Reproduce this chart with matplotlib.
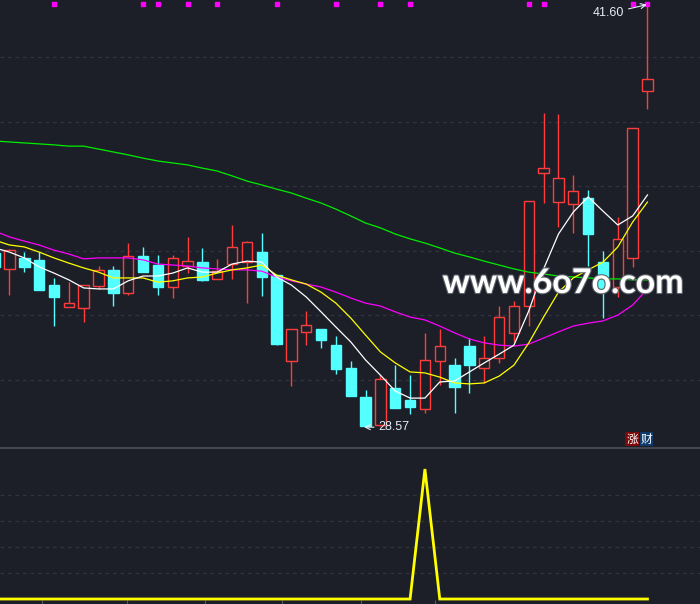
import numpy as np
import matplotlib
matplotlib.use("Agg")
import matplotlib.pyplot as plt
import matplotlib.patheffects as pe
from matplotlib.lines import Line2D

# --------------------------------------------------------------------------- #
# Data
# --------------------------------------------------------------------------- #
days = list(range(-1, 44))

opens = [33.93, 33.44, 33.78, 33.72, 32.94, 32.26, 32.23, 32.91, 33.41, 32.69,
         33.84, 33.56, 32.88, 33.53, 33.65, 33.13, 33.59, 33.65, 33.96, 33.25,
         30.59, 31.49, 31.58, 31.08, 30.37, 29.47, 28.60, 29.75, 29.38, 29.10,
         30.59, 30.46, 31.05, 30.37, 30.68, 31.46, 32.29, 36.41, 35.51, 35.45,
         35.63, 33.65, 32.88, 33.78, 38.95]
highs = [34.02, 34.06, 33.96, 33.96, 33.16, 33.03, 32.94, 33.53, 33.53, 34.24,
         34.12, 33.87, 33.87, 34.43, 34.09, 33.75, 34.80, 34.30, 34.55, 33.25,
         31.58, 32.14, 31.58, 31.36, 30.59, 29.69, 30.15, 30.46, 30.15, 31.46,
         31.58, 30.68, 31.30, 31.36, 32.29, 32.45, 35.54, 38.27, 38.24, 36.35,
         35.88, 33.99, 35.05, 37.80, 41.60]
lows = [33.34, 32.63, 33.34, 32.79, 31.67, 32.26, 31.80, 32.82, 32.29, 32.63,
        33.34, 32.63, 32.54, 33.31, 33.07, 33.13, 33.13, 32.38, 32.60, 31.08,
        29.81, 31.08, 30.99, 30.19, 29.50, 28.57, 28.58, 29.13, 28.95, 28.98,
        29.85, 28.98, 29.60, 29.91, 30.53, 31.18, 31.67, 35.48, 34.74, 34.55,
        33.53, 31.92, 32.57, 33.50, 38.39]
closes = [33.50, 34.02, 33.50, 32.79, 32.57, 32.38, 32.94, 33.41, 32.69, 33.84,
          33.34, 32.88, 33.78, 33.68, 33.10, 33.37, 34.12, 34.27, 33.19, 31.11,
          31.58, 31.70, 31.24, 30.34, 29.50, 28.57, 30.03, 29.13, 29.16, 30.62,
          31.05, 29.78, 30.46, 30.68, 31.95, 32.29, 35.54, 36.56, 36.25, 35.85,
          34.52, 32.79, 34.37, 37.80, 39.32]

ma5 = [34.09, 33.96, 33.78, 33.50, 33.31, 33.10, 32.85, 32.82, 32.82, 33.07,
       33.22, 33.22, 33.31, 33.47, 33.34, 33.34, 33.59, 33.68, 33.65, 33.19,
       32.94, 32.57, 32.11, 31.64, 31.18, 30.62, 30.15, 29.66, 29.44, 29.44,
       29.94, 29.97, 30.25, 30.53, 30.80, 31.08, 32.14, 33.44, 34.52, 35.20,
       35.67, 35.23, 34.80, 35.08, 35.73]
ma10 = [34.33, 34.18, 34.12, 33.96, 33.78, 33.62, 33.47, 33.34, 33.16, 33.16,
        33.16, 33.03, 33.07, 33.16, 33.19, 33.31, 33.41, 33.47, 33.56, 33.25,
        33.10, 32.97, 32.72, 32.38, 31.92, 31.39, 30.87, 30.53, 30.25, 30.22,
        30.09, 29.91, 29.88, 29.91, 30.12, 30.46, 31.15, 31.95, 32.72, 33.16,
        33.41, 33.65, 34.12, 34.89, 35.51]
ma20 = [34.61, 34.43, 34.30, 34.18, 34.02, 33.90, 33.75, 33.78, 33.78, 33.78,
        33.72, 33.59, 33.56, 33.53, 33.47, 33.44, 33.41, 33.41, 33.37, 33.19,
        33.07, 32.97, 32.88, 32.72, 32.54, 32.38, 32.29, 32.11, 31.95, 31.86,
        31.67, 31.46, 31.27, 31.15, 31.08, 31.05, 31.11, 31.30, 31.49, 31.67,
        31.76, 31.83, 32.01, 32.32, 32.82]
ma60 = [37.40, 37.37, 37.34, 37.31, 37.28, 37.24, 37.24, 37.15, 37.06, 36.97,
        36.87, 36.78, 36.72, 36.66, 36.56, 36.47, 36.32, 36.16, 36.04, 35.91,
        35.79, 35.63, 35.48, 35.29, 35.08, 34.86, 34.71, 34.52, 34.37, 34.24,
        34.09, 33.93, 33.81, 33.68, 33.56, 33.44, 33.34, 33.28, 33.22, 33.19,
        33.16, 33.13, 33.13, 33.10, 33.10]

# lower panel signal
signal = [0] * 29 + [5] + [0] * 15

# magenta flags along the top edge
flag_days = [3, 9, 10, 12, 14, 18, 22, 25, 27, 35, 36, 42, 43]

# date ticks on the bottom edge
date_ticks = [2.2, 7.9, 13.2, 18.4, 23.7, 28.7]

price_grid = [30, 32, 34, 36, 38, 40]
signal_grid = [1, 2, 3, 4]

BG = "#1c1f28"
UP = "#ff3c3c"
DOWN = "#54ffff"
GRID = "#30343e"

plt.rcParams["font.family"] = ["Liberation Sans", "Noto Sans CJK SC", "DejaVu Sans"]

fig = plt.figure(figsize=(7.0, 6.04), dpi=100, facecolor=BG)
ax = fig.add_axes([0, 157 / 604, 1, 447 / 604])
axs = fig.add_axes([0, 0, 1, 156 / 604])

for a in (ax, axs):
    a.set_facecolor(BG)
    for s in a.spines.values():
        s.set_visible(False)
    a.set_xlim(-0.64, 46.54)

# --------------------------------------------------------------------------- #
# Candles
# --------------------------------------------------------------------------- #
for d, o, h, l, c in zip(days, opens, highs, lows, closes):
    up = c >= o
    col = UP if up else DOWN
    lo_b, hi_b = min(o, c), max(o, c)
    if h > hi_b:
        ax.vlines(d, hi_b, h, color=col, lw=1.0, zorder=2)
    if l < lo_b:
        ax.vlines(d, l, lo_b, color=col, lw=1.0, zorder=2)
    ax.bar(d, max(hi_b - lo_b, 0.02), bottom=lo_b, width=0.7,
           facecolor=BG if up else DOWN, edgecolor=col, linewidth=1.0, zorder=3)

# moving averages
ax.plot(days, ma60, color="#00ee00", lw=0.9, zorder=4)
ax.plot(days, ma20, color="#ff00ff", lw=0.9, zorder=4)
ax.plot(days, ma10, color="#ffff00", lw=0.9, zorder=4)
ax.plot(days, ma5, color="#ffffff", lw=0.9, zorder=4)

ax.set_ylim(27.926, 41.765)
ax.set_yticks(price_grid)
ax.set_xticks([])
ax.tick_params(length=0, labelleft=False)
ax.grid(axis="y", color=GRID, linestyle=(0, (3, 3)), lw=0.9)

ax.plot(flag_days, [0.991] * len(flag_days), "s", color="#ff00ff", ms=3,
        transform=ax.get_xaxis_transform(), zorder=5, clip_on=False)

# high / low labels
label_col = "#e4ecf5"
hi_i = highs.index(max(highs))
lo_i = lows.index(min(lows))
ax.annotate(f"{max(highs):.2f}", xy=(days[hi_i] - 0.05, max(highs) + 0.02),
            xytext=(days[hi_i] - 1.55, max(highs) - 0.25),
            ha="right", va="center", fontsize=9, color=label_col,
            arrowprops=dict(arrowstyle="->", color=label_col, lw=0.8,
                            shrinkA=1, shrinkB=0), zorder=6)
ax.annotate(f"{min(lows):.2f}", xy=(days[lo_i] - 0.1, min(lows) - 0.03),
            xytext=(days[lo_i] + 0.85, min(lows) - 0.03),
            ha="left", va="center", fontsize=9, color=label_col,
            arrowprops=dict(arrowstyle="->", color=label_col, lw=0.8,
                            shrinkA=1, shrinkB=0), zorder=6)

# watermark
ax.text(563 / 700, 1 - 283 / 447, "www.6o7o.com", transform=ax.transAxes,
        ha="center", va="center", fontsize=24.5, fontweight="bold",
        family=["Lato", "DejaVu Sans"], color="white", zorder=7,
        path_effects=[pe.withStroke(linewidth=1.6, foreground="#5f636b")])

# badge
ax.text(632 / 700, 1 - 439 / 447, "涨", transform=ax.transAxes, ha="center",
        va="center", fontsize=8.5, color="white", family=["Noto Sans CJK SC"],
        bbox=dict(boxstyle="square,pad=0.08", fc="#7c0a0a", ec="none"), zorder=7)
ax.text(646.5 / 700, 1 - 439 / 447, "财", transform=ax.transAxes, ha="center",
        va="center", fontsize=8.5, color="white", family=["Noto Sans CJK SC"],
        bbox=dict(boxstyle="square,pad=0.08", fc="#0d3b6b", ec="none"), zorder=7)

# --------------------------------------------------------------------------- #
# Lower panel
# --------------------------------------------------------------------------- #
axs.plot([-0.64] + days[1:], [signal[0]] + signal[1:], color="#ffff00", lw=2.0,
         solid_joinstyle="miter", zorder=3)
axs.set_ylim(-0.192, 5.808)
axs.set_yticks(signal_grid)
axs.grid(axis="y", color=GRID, linestyle=(0, (3, 3)), lw=0.9)
axs.set_xticks(date_ticks)
axs.tick_params(axis="x", direction="in", length=3, color="#555a64",
                labelbottom=False)
axs.tick_params(axis="y", length=0, labelleft=False)

fig.add_artist(Line2D([0, 1], [1 - 447.5 / 604] * 2, transform=fig.transFigure,
                      color="#4b4f59", lw=1.2))

fig.savefig("out.png", dpi=100, facecolor=BG)
